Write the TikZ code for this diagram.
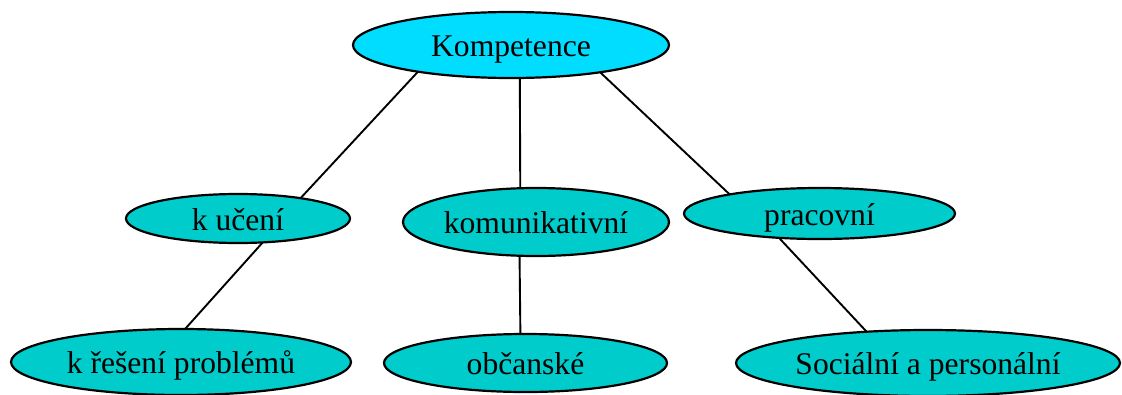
\documentclass[tikz,border=0pt]{standalone}
\usepackage{fontspec}
\setmainfont{Liberation Serif}
\usetikzlibrary{shapes.geometric}
\definecolor{topcyan}{RGB}{0,221,255}
\definecolor{teal}{RGB}{0,204,204}
\tikzset{
  bubble/.style={ellipse, draw=black, line width=2.2pt, fill=teal, inner sep=0pt, outer sep=0pt,
    font=\fontsize{31.6}{36}\selectfont, text height=23pt, text depth=0pt},
  topbubble/.style={bubble, fill=topcyan},
  link/.style={draw=black, line width=1.9pt}
}
\begin{document}
\begin{tikzpicture}[x=1pt,y=-1pt]
\useasboundingbox (0,0) rectangle (1122,394);
\node[topbubble, minimum width=316pt, minimum height=66pt] (komp) at (511,45) {Kompetence};
\node[bubble, minimum width=224pt, minimum height=49pt] (ucen) at (238,218.5) {k učení};
\node[bubble, minimum width=266pt, minimum height=68pt] (komm) at (536,222) {komunikativní};
\node[bubble, minimum width=271pt, minimum height=51pt] (prac) at (819.5,213.5) {pracovní};
\node[bubble, minimum width=340pt, minimum height=66pt] (kres) at (181,362) {k řešení problémů};
\node[bubble, minimum width=283pt, minimum height=58pt] (obc) at (525.5,363) {občanské};
\node[bubble, minimum width=384pt, minimum height=66pt] (soc) at (928,363) {Sociální a personální};
\draw[link] (komp.196.8) -- (ucen.18.3);
\draw[link] (komp.285.3) -- (komm.115.2);
\draw[link] (komp.343) -- (prac.168);
\draw[link] (ucen.316) -- (kres.83);
\draw[link] (komm.244.8) -- (obc.100.7);
\draw[link] (prac.211) -- (soc.153.6);
\end{tikzpicture}
\end{document}
